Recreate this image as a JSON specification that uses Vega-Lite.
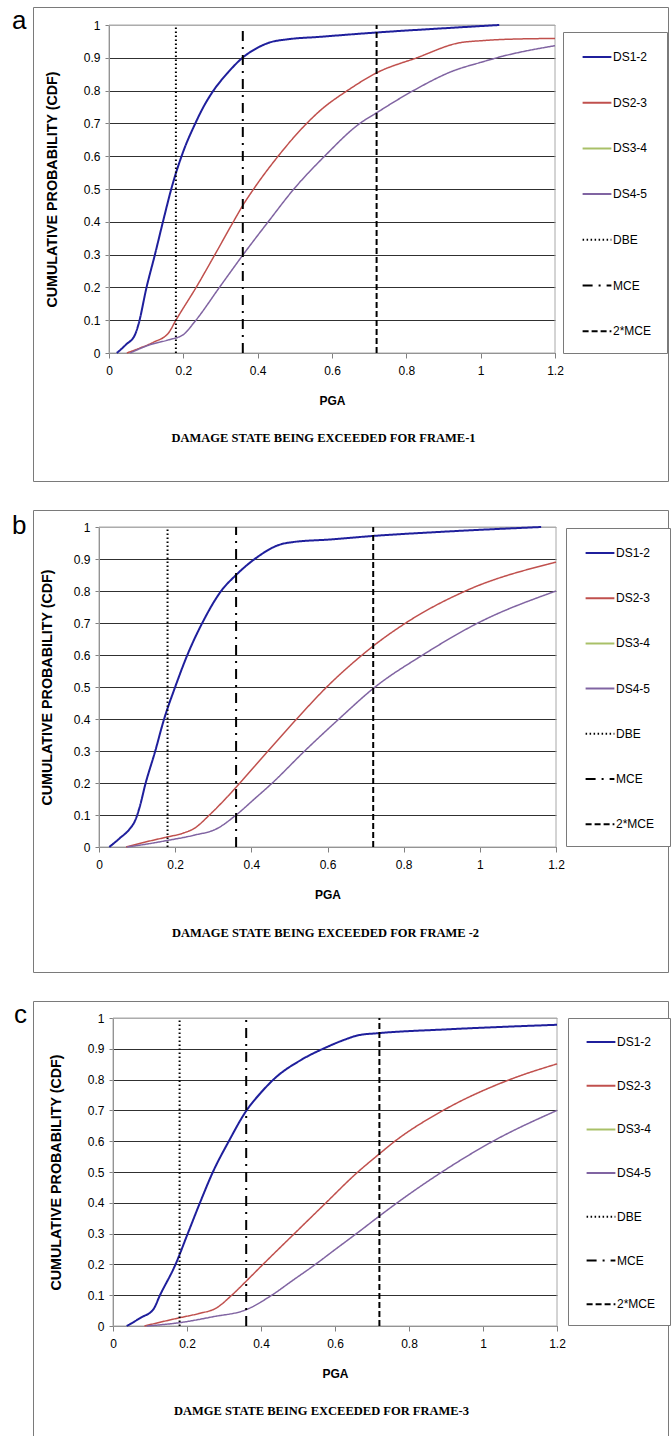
{
  "$schema": "https://vega.github.io/schema/vega-lite/v6.json",
  "background": "white",
  "padding": {"left": 12, "top": 6, "right": 0, "bottom": 0},
  "spacing": 27,
  "config": {
    "font": "Liberation Sans",
    "view": {"stroke": "#7a7a7a", "strokeWidth": 1},
    "axis": {
      "labelFont": "Liberation Sans",
      "labelFontSize": 12,
      "labelColor": "#000",
      "titleFont": "Liberation Sans",
      "titleColor": "#000",
      "titleFontWeight": "bold",
      "domainColor": "#808080",
      "tickColor": "#808080",
      "labelFlush": false,
      "labelOverlap": false
    },
    "axisX": {"grid": false, "tickSize": 5, "labelPadding": 7, "titleFontSize": 12, "titlePadding": 19},
    "axisY": {"grid": true, "gridWidth": 1, "tickSize": 4, "labelPadding": 5, "titleFontSize": 14.3},
    "legend": {
      "title": null,
      "orient": "none",
      "strokeColor": "#7a7a7a",
      "fillColor": "white",
      "symbolType": "M-0.6,0H2.6",
      "symbolSize": 324,
      "symbolStrokeWidth": 2,
      "labelOffset": 15,
      "labelFont": "Liberation Sans",
      "labelFontSize": 12,
      "labelColor": "#000"
    },
    "title": {"color": "#000"}
  },
  "resolve": {
    "scale": {"color": "independent", "strokeDash": "independent"},
    "legend": {"color": "independent", "strokeDash": "independent"}
  },
  "datasets": {
    "hazard": [
      {"series": "DBE", "pga": 0.18},
      {"series": "MCE", "pga": 0.36},
      {"series": "2*MCE", "pga": 0.72}
    ],
    "frame1": [
      {"series": "DS1-2", "pga": 0.021, "cdf": 0},
      {"series": "DS1-2", "pga": 0.045, "cdf": 0.025},
      {"series": "DS1-2", "pga": 0.07, "cdf": 0.056},
      {"series": "DS1-2", "pga": 0.079, "cdf": 0.086},
      {"series": "DS1-2", "pga": 0.101, "cdf": 0.2},
      {"series": "DS1-2", "pga": 0.124, "cdf": 0.302},
      {"series": "DS1-2", "pga": 0.146, "cdf": 0.404},
      {"series": "DS1-2", "pga": 0.169, "cdf": 0.506},
      {"series": "DS1-2", "pga": 0.2, "cdf": 0.615},
      {"series": "DS1-2", "pga": 0.231, "cdf": 0.697},
      {"series": "DS1-2", "pga": 0.255, "cdf": 0.752},
      {"series": "DS1-2", "pga": 0.281, "cdf": 0.8},
      {"series": "DS1-2", "pga": 0.32, "cdf": 0.855},
      {"series": "DS1-2", "pga": 0.359, "cdf": 0.9},
      {"series": "DS1-2", "pga": 0.397, "cdf": 0.929},
      {"series": "DS1-2", "pga": 0.433, "cdf": 0.947},
      {"series": "DS1-2", "pga": 0.478, "cdf": 0.956},
      {"series": "DS1-2", "pga": 0.568, "cdf": 0.964},
      {"series": "DS1-2", "pga": 0.718, "cdf": 0.977},
      {"series": "DS1-2", "pga": 0.9, "cdf": 0.99},
      {"series": "DS1-2", "pga": 1.05, "cdf": 1.0},
      {"series": "DS2-3", "pga": 0.048, "cdf": 0},
      {"series": "DS2-3", "pga": 0.083, "cdf": 0.015},
      {"series": "DS2-3", "pga": 0.12, "cdf": 0.033},
      {"series": "DS2-3", "pga": 0.16, "cdf": 0.061},
      {"series": "DS2-3", "pga": 0.18, "cdf": 0.1},
      {"series": "DS2-3", "pga": 0.236, "cdf": 0.203},
      {"series": "DS2-3", "pga": 0.285, "cdf": 0.3},
      {"series": "DS2-3", "pga": 0.335, "cdf": 0.401},
      {"series": "DS2-3", "pga": 0.36, "cdf": 0.45},
      {"series": "DS2-3", "pga": 0.388, "cdf": 0.498},
      {"series": "DS2-3", "pga": 0.455, "cdf": 0.6},
      {"series": "DS2-3", "pga": 0.532, "cdf": 0.7},
      {"series": "DS2-3", "pga": 0.568, "cdf": 0.739},
      {"series": "DS2-3", "pga": 0.644, "cdf": 0.802},
      {"series": "DS2-3", "pga": 0.718, "cdf": 0.853},
      {"series": "DS2-3", "pga": 0.828, "cdf": 0.9},
      {"series": "DS2-3", "pga": 0.944, "cdf": 0.946},
      {"series": "DS2-3", "pga": 1.0, "cdf": 0.952},
      {"series": "DS2-3", "pga": 1.061, "cdf": 0.956},
      {"series": "DS2-3", "pga": 1.2, "cdf": 0.959},
      {"series": "DS4-5", "pga": 0.057, "cdf": 0},
      {"series": "DS4-5", "pga": 0.11, "cdf": 0.025},
      {"series": "DS4-5", "pga": 0.16, "cdf": 0.04},
      {"series": "DS4-5", "pga": 0.2, "cdf": 0.056},
      {"series": "DS4-5", "pga": 0.231, "cdf": 0.096},
      {"series": "DS4-5", "pga": 0.299, "cdf": 0.203},
      {"series": "DS4-5", "pga": 0.361, "cdf": 0.3},
      {"series": "DS4-5", "pga": 0.429, "cdf": 0.401},
      {"series": "DS4-5", "pga": 0.496, "cdf": 0.498},
      {"series": "DS4-5", "pga": 0.58, "cdf": 0.6},
      {"series": "DS4-5", "pga": 0.675, "cdf": 0.7},
      {"series": "DS4-5", "pga": 0.718, "cdf": 0.731},
      {"series": "DS4-5", "pga": 0.819, "cdf": 0.8},
      {"series": "DS4-5", "pga": 0.926, "cdf": 0.86},
      {"series": "DS4-5", "pga": 1.0, "cdf": 0.886},
      {"series": "DS4-5", "pga": 1.06, "cdf": 0.905},
      {"series": "DS4-5", "pga": 1.2, "cdf": 0.937}
    ],
    "frame2": [
      {"series": "DS1-2", "pga": 0.027, "cdf": 0},
      {"series": "DS1-2", "pga": 0.055, "cdf": 0.028},
      {"series": "DS1-2", "pga": 0.081, "cdf": 0.057},
      {"series": "DS1-2", "pga": 0.095, "cdf": 0.083},
      {"series": "DS1-2", "pga": 0.108, "cdf": 0.13},
      {"series": "DS1-2", "pga": 0.121, "cdf": 0.193},
      {"series": "DS1-2", "pga": 0.147, "cdf": 0.297},
      {"series": "DS1-2", "pga": 0.171, "cdf": 0.4},
      {"series": "DS1-2", "pga": 0.2, "cdf": 0.5},
      {"series": "DS1-2", "pga": 0.232, "cdf": 0.6},
      {"series": "DS1-2", "pga": 0.272, "cdf": 0.702},
      {"series": "DS1-2", "pga": 0.322, "cdf": 0.802},
      {"series": "DS1-2", "pga": 0.359, "cdf": 0.849},
      {"series": "DS1-2", "pga": 0.41, "cdf": 0.901},
      {"series": "DS1-2", "pga": 0.475, "cdf": 0.945},
      {"series": "DS1-2", "pga": 0.51, "cdf": 0.953},
      {"series": "DS1-2", "pga": 0.607, "cdf": 0.961},
      {"series": "DS1-2", "pga": 0.719, "cdf": 0.972},
      {"series": "DS1-2", "pga": 0.9, "cdf": 0.985},
      {"series": "DS1-2", "pga": 1.161, "cdf": 1.0},
      {"series": "DS2-3", "pga": 0.071, "cdf": 0},
      {"series": "DS2-3", "pga": 0.12, "cdf": 0.015},
      {"series": "DS2-3", "pga": 0.178, "cdf": 0.031},
      {"series": "DS2-3", "pga": 0.22, "cdf": 0.043},
      {"series": "DS2-3", "pga": 0.25, "cdf": 0.058},
      {"series": "DS2-3", "pga": 0.29, "cdf": 0.1},
      {"series": "DS2-3", "pga": 0.33, "cdf": 0.148},
      {"series": "DS2-3", "pga": 0.37, "cdf": 0.2},
      {"series": "DS2-3", "pga": 0.44, "cdf": 0.295},
      {"series": "DS2-3", "pga": 0.519, "cdf": 0.4},
      {"series": "DS2-3", "pga": 0.598, "cdf": 0.5},
      {"series": "DS2-3", "pga": 0.69, "cdf": 0.599},
      {"series": "DS2-3", "pga": 0.719, "cdf": 0.627},
      {"series": "DS2-3", "pga": 0.808, "cdf": 0.702},
      {"series": "DS2-3", "pga": 0.966, "cdf": 0.802},
      {"series": "DS2-3", "pga": 1.2, "cdf": 0.89},
      {"series": "DS4-5", "pga": 0.073, "cdf": 0},
      {"series": "DS4-5", "pga": 0.13, "cdf": 0.01},
      {"series": "DS4-5", "pga": 0.182, "cdf": 0.021},
      {"series": "DS4-5", "pga": 0.25, "cdf": 0.037},
      {"series": "DS4-5", "pga": 0.309, "cdf": 0.057},
      {"series": "DS4-5", "pga": 0.36, "cdf": 0.1},
      {"series": "DS4-5", "pga": 0.408, "cdf": 0.15},
      {"series": "DS4-5", "pga": 0.455, "cdf": 0.2},
      {"series": "DS4-5", "pga": 0.54, "cdf": 0.3},
      {"series": "DS4-5", "pga": 0.63, "cdf": 0.4},
      {"series": "DS4-5", "pga": 0.725, "cdf": 0.5},
      {"series": "DS4-5", "pga": 0.85, "cdf": 0.6},
      {"series": "DS4-5", "pga": 0.995, "cdf": 0.7},
      {"series": "DS4-5", "pga": 1.2, "cdf": 0.8}
    ],
    "frame3": [
      {"series": "DS1-2", "pga": 0.037, "cdf": 0},
      {"series": "DS1-2", "pga": 0.075, "cdf": 0.027},
      {"series": "DS1-2", "pga": 0.109, "cdf": 0.054},
      {"series": "DS1-2", "pga": 0.127, "cdf": 0.1},
      {"series": "DS1-2", "pga": 0.169, "cdf": 0.2},
      {"series": "DS1-2", "pga": 0.202, "cdf": 0.3},
      {"series": "DS1-2", "pga": 0.235, "cdf": 0.4},
      {"series": "DS1-2", "pga": 0.27, "cdf": 0.5},
      {"series": "DS1-2", "pga": 0.313, "cdf": 0.6},
      {"series": "DS1-2", "pga": 0.361, "cdf": 0.7},
      {"series": "DS1-2", "pga": 0.4, "cdf": 0.758},
      {"series": "DS1-2", "pga": 0.438, "cdf": 0.805},
      {"series": "DS1-2", "pga": 0.51, "cdf": 0.865},
      {"series": "DS1-2", "pga": 0.573, "cdf": 0.903},
      {"series": "DS1-2", "pga": 0.627, "cdf": 0.93},
      {"series": "DS1-2", "pga": 0.663, "cdf": 0.944},
      {"series": "DS1-2", "pga": 0.72, "cdf": 0.951},
      {"series": "DS1-2", "pga": 0.9, "cdf": 0.963},
      {"series": "DS1-2", "pga": 1.2, "cdf": 0.978},
      {"series": "DS2-3", "pga": 0.085, "cdf": 0},
      {"series": "DS2-3", "pga": 0.13, "cdf": 0.013},
      {"series": "DS2-3", "pga": 0.181, "cdf": 0.027},
      {"series": "DS2-3", "pga": 0.23, "cdf": 0.04},
      {"series": "DS2-3", "pga": 0.28, "cdf": 0.059},
      {"series": "DS2-3", "pga": 0.321, "cdf": 0.1},
      {"series": "DS2-3", "pga": 0.362, "cdf": 0.148},
      {"series": "DS2-3", "pga": 0.402, "cdf": 0.196},
      {"series": "DS2-3", "pga": 0.492, "cdf": 0.302},
      {"series": "DS2-3", "pga": 0.573, "cdf": 0.397},
      {"series": "DS2-3", "pga": 0.659, "cdf": 0.497},
      {"series": "DS2-3", "pga": 0.72, "cdf": 0.559},
      {"series": "DS2-3", "pga": 0.762, "cdf": 0.6},
      {"series": "DS2-3", "pga": 0.888, "cdf": 0.697},
      {"series": "DS2-3", "pga": 1.068, "cdf": 0.798},
      {"series": "DS2-3", "pga": 1.2, "cdf": 0.851},
      {"series": "DS4-5", "pga": 0.091, "cdf": 0},
      {"series": "DS4-5", "pga": 0.181, "cdf": 0.011},
      {"series": "DS4-5", "pga": 0.27, "cdf": 0.03},
      {"series": "DS4-5", "pga": 0.362, "cdf": 0.054},
      {"series": "DS4-5", "pga": 0.429, "cdf": 0.1},
      {"series": "DS4-5", "pga": 0.488, "cdf": 0.15},
      {"series": "DS4-5", "pga": 0.547, "cdf": 0.2},
      {"series": "DS4-5", "pga": 0.6, "cdf": 0.248},
      {"series": "DS4-5", "pga": 0.658, "cdf": 0.3},
      {"series": "DS4-5", "pga": 0.72, "cdf": 0.357},
      {"series": "DS4-5", "pga": 0.768, "cdf": 0.4},
      {"series": "DS4-5", "pga": 0.889, "cdf": 0.5},
      {"series": "DS4-5", "pga": 1.027, "cdf": 0.6},
      {"series": "DS4-5", "pga": 1.2, "cdf": 0.7}
    ]
  },
  "vconcat": [
    {
      "title": {"text": "a", "orient": "top", "anchor": "start", "frame": "group", "font": "Liberation Sans", "fontSize": 26, "fontWeight": "normal", "baseline": "alphabetic", "dx": -21, "offset": -48},
      "vconcat": [
        {
          "width": 635,
          "height": 474,
          "title": {"text": "DAMAGE STATE BEING EXCEEDED FOR FRAME-1", "orient": "bottom", "anchor": "middle", "frame": "group", "font": "Liberation Serif", "fontSize": 12.5, "fontWeight": "bold", "baseline": "alphabetic", "dx": -27, "offset": -39},
          "layer": [
            {
              "data": {"values": [{}]},
              "mark": {"type": "rect", "filled": false, "stroke": "#a8a8a8", "strokeWidth": 1},
              "encoding": {
                "x": {"datum": 0, "type": "quantitative",
                  "scale": {"domain": [0, 1.2], "range": [76, 522], "nice": false, "zero": false},
                  "axis": {"title": "PGA", "orient": "bottom", "offset": -128, "values": [0, 0.2, 0.4, 0.6, 0.8, 1, 1.2], "format": "~g"}},
                "x2": {"datum": 1.2},
                "y": {"datum": 0, "type": "quantitative",
                  "scale": {"domain": [0, 1], "range": [346, 18], "nice": false, "zero": false},
                  "axis": {"title": "CUMULATIVE PROBABILITY (CDF)", "orient": "left", "offset": -76, "titlePadding": 24, "values": [0, 0.1, 0.2, 0.3, 0.4, 0.5, 0.6, 0.7, 0.8, 0.9, 1], "format": "~g",
                    "gridColor": {"condition": {"test": "datum.value >= 1", "value": "#b0b0b0"}, "value": "#303030"}}},
                "y2": {"datum": 1}
              }
            },
            {
              "data": {"name": "frame1"},
              "transform": [{"filter": "datum.series !== 'DS1-2'"}],
              "mark": {"type": "line", "interpolate": "monotone", "strokeWidth": 1.5},
              "encoding": {
                "x": {"field": "pga", "type": "quantitative", "title": "PGA"},
                "y": {"field": "cdf", "type": "quantitative", "title": "CUMULATIVE PROBABILITY (CDF)"},
                "color": {"field": "series", "type": "nominal",
                  "scale": {"domain": ["DS1-2", "DS2-3", "DS3-4", "DS4-5", "DBE", "MCE", "2*MCE"], "range": ["#1f1f9c", "#c0504d", "#a9c068", "#8064a2", "#000000", "#000000", "#000000"]},
                  "legend": {"legendX": 530, "legendY": 25, "padding": 15, "rowPadding": 29.7}},
                "strokeDash": {"field": "series", "type": "nominal",
                  "scale": {"domain": ["DS1-2", "DS2-3", "DS3-4", "DS4-5", "DBE", "MCE", "2*MCE"], "range": [[1, 0], [1, 0], [1, 0], [1, 0], [1.5, 2.5], [10, 6, 2, 6], [6, 3]]},
                  "legend": {"legendX": 530, "legendY": 25, "padding": 15, "rowPadding": 29.7}}
              }
            },
            {
              "data": {"name": "frame1"},
              "transform": [{"filter": "datum.series === 'DS1-2'"}],
              "mark": {"type": "line", "interpolate": "monotone", "strokeWidth": 2},
              "encoding": {
                "x": {"field": "pga", "type": "quantitative", "title": "PGA"},
                "y": {"field": "cdf", "type": "quantitative", "title": "CUMULATIVE PROBABILITY (CDF)"},
                "color": {"field": "series", "type": "nominal"},
                "strokeDash": {"field": "series", "type": "nominal"}
              }
            },
            {
              "data": {"name": "hazard"},
              "mark": {"type": "rule", "strokeWidth": 2},
              "encoding": {
                "x": {"field": "pga", "type": "quantitative", "title": "PGA"},
                "y": {"datum": 0, "type": "quantitative", "title": "CUMULATIVE PROBABILITY (CDF)"},
                "y2": {"datum": 1},
                "color": {"field": "series", "type": "nominal"},
                "strokeDash": {"field": "series", "type": "nominal"}
              }
            }
          ]
        }
      ]
    },
    {
      "title": {"text": "b", "orient": "top", "anchor": "start", "frame": "group", "font": "Liberation Sans", "fontSize": 26, "fontWeight": "normal", "baseline": "alphabetic", "dx": -21, "offset": -50},
      "vconcat": [
        {
          "width": 635,
          "height": 462,
          "title": {"text": "DAMAGE STATE BEING EXCEEDED FOR FRAME -2", "orient": "bottom", "anchor": "middle", "frame": "group", "font": "Liberation Serif", "fontSize": 12.5, "fontWeight": "bold", "baseline": "alphabetic", "dx": -25, "offset": -35},
          "layer": [
            {
              "data": {"values": [{}]},
              "mark": {"type": "rect", "filled": false, "stroke": "#a8a8a8", "strokeWidth": 1},
              "encoding": {
                "x": {"datum": 0, "type": "quantitative",
                  "scale": {"domain": [0, 1.2], "range": [66, 523], "nice": false, "zero": false},
                  "axis": {"title": "PGA", "orient": "bottom", "offset": -125, "values": [0, 0.2, 0.4, 0.6, 0.8, 1, 1.2], "format": "~g"}},
                "x2": {"datum": 1.2},
                "y": {"datum": 0, "type": "quantitative",
                  "scale": {"domain": [0, 1], "range": [337, 17], "nice": false, "zero": false},
                  "axis": {"title": "CUMULATIVE PROBABILITY (CDF)", "orient": "left", "offset": -66, "titlePadding": 19, "values": [0, 0.1, 0.2, 0.3, 0.4, 0.5, 0.6, 0.7, 0.8, 0.9, 1], "format": "~g",
                    "gridColor": {"condition": {"test": "datum.value >= 1", "value": "#b0b0b0"}, "value": "#303030"}}},
                "y2": {"datum": 1}
              }
            },
            {
              "data": {"name": "frame2"},
              "transform": [{"filter": "datum.series !== 'DS1-2'"}],
              "mark": {"type": "line", "interpolate": "monotone", "strokeWidth": 1.5},
              "encoding": {
                "x": {"field": "pga", "type": "quantitative", "title": "PGA"},
                "y": {"field": "cdf", "type": "quantitative", "title": "CUMULATIVE PROBABILITY (CDF)"},
                "color": {"field": "series", "type": "nominal",
                  "scale": {"domain": ["DS1-2", "DS2-3", "DS3-4", "DS4-5", "DBE", "MCE", "2*MCE"], "range": ["#1f1f9c", "#c0504d", "#a9c068", "#8064a2", "#000000", "#000000", "#000000"]},
                  "legend": {"legendX": 533, "legendY": 18, "padding": 15, "rowPadding": 29.2}},
                "strokeDash": {"field": "series", "type": "nominal",
                  "scale": {"domain": ["DS1-2", "DS2-3", "DS3-4", "DS4-5", "DBE", "MCE", "2*MCE"], "range": [[1, 0], [1, 0], [1, 0], [1, 0], [1.5, 2.5], [10, 6, 2, 6], [6, 3]]},
                  "legend": {"legendX": 533, "legendY": 18, "padding": 15, "rowPadding": 29.2}}
              }
            },
            {
              "data": {"name": "frame2"},
              "transform": [{"filter": "datum.series === 'DS1-2'"}],
              "mark": {"type": "line", "interpolate": "monotone", "strokeWidth": 2},
              "encoding": {
                "x": {"field": "pga", "type": "quantitative", "title": "PGA"},
                "y": {"field": "cdf", "type": "quantitative", "title": "CUMULATIVE PROBABILITY (CDF)"},
                "color": {"field": "series", "type": "nominal"},
                "strokeDash": {"field": "series", "type": "nominal"}
              }
            },
            {
              "data": {"name": "hazard"},
              "mark": {"type": "rule", "strokeWidth": 2},
              "encoding": {
                "x": {"field": "pga", "type": "quantitative", "title": "PGA"},
                "y": {"datum": 0, "type": "quantitative", "title": "CUMULATIVE PROBABILITY (CDF)"},
                "y2": {"datum": 1},
                "color": {"field": "series", "type": "nominal"},
                "strokeDash": {"field": "series", "type": "nominal"}
              }
            }
          ]
        }
      ]
    },
    {
      "title": {"text": "c", "orient": "top", "anchor": "start", "frame": "group", "font": "Liberation Sans", "fontSize": 26, "fontWeight": "normal", "baseline": "alphabetic", "dx": -19, "offset": -48},
      "vconcat": [
        {
          "width": 635,
          "height": 445,
          "title": {"text": "DAMGE STATE BEING EXCEEDED FOR FRAME-3", "orient": "bottom", "anchor": "middle", "frame": "group", "font": "Liberation Serif", "fontSize": 12.5, "fontWeight": "bold", "baseline": "alphabetic", "dx": -29, "offset": -31},
          "layer": [
            {
              "data": {"values": [{}]},
              "mark": {"type": "rect", "filled": false, "stroke": "#a8a8a8", "strokeWidth": 1},
              "encoding": {
                "x": {"datum": 0, "type": "quantitative",
                  "scale": {"domain": [0, 1.2], "range": [80, 524], "nice": false, "zero": false},
                  "axis": {"title": "PGA", "orient": "bottom", "offset": -120, "values": [0, 0.2, 0.4, 0.6, 0.8, 1, 1.2], "format": "~g"}},
                "x2": {"datum": 1.2},
                "y": {"datum": 0, "type": "quantitative",
                  "scale": {"domain": [0, 1], "range": [325, 17], "nice": false, "zero": false},
                  "axis": {"title": "CUMULATIVE PROBABILITY (CDF)", "orient": "left", "offset": -80, "titlePadding": 24, "values": [0, 0.1, 0.2, 0.3, 0.4, 0.5, 0.6, 0.7, 0.8, 0.9, 1], "format": "~g",
                    "gridColor": {"condition": {"test": "datum.value >= 1", "value": "#b0b0b0"}, "value": "#303030"}}},
                "y2": {"datum": 1}
              }
            },
            {
              "data": {"name": "frame3"},
              "transform": [{"filter": "datum.series !== 'DS1-2'"}],
              "mark": {"type": "line", "interpolate": "monotone", "strokeWidth": 1.5},
              "encoding": {
                "x": {"field": "pga", "type": "quantitative", "title": "PGA"},
                "y": {"field": "cdf", "type": "quantitative", "title": "CUMULATIVE PROBABILITY (CDF)"},
                "color": {"field": "series", "type": "nominal",
                  "scale": {"domain": ["DS1-2", "DS2-3", "DS3-4", "DS4-5", "DBE", "MCE", "2*MCE"], "range": ["#1f1f9c", "#c0504d", "#a9c068", "#8064a2", "#000000", "#000000", "#000000"]},
                  "legend": {"legendX": 535, "legendY": 17, "padding": 14, "rowPadding": 27.7}},
                "strokeDash": {"field": "series", "type": "nominal",
                  "scale": {"domain": ["DS1-2", "DS2-3", "DS3-4", "DS4-5", "DBE", "MCE", "2*MCE"], "range": [[1, 0], [1, 0], [1, 0], [1, 0], [1.5, 2.5], [10, 6, 2, 6], [6, 3]]},
                  "legend": {"legendX": 535, "legendY": 17, "padding": 14, "rowPadding": 27.7}}
              }
            },
            {
              "data": {"name": "frame3"},
              "transform": [{"filter": "datum.series === 'DS1-2'"}],
              "mark": {"type": "line", "interpolate": "monotone", "strokeWidth": 2},
              "encoding": {
                "x": {"field": "pga", "type": "quantitative", "title": "PGA"},
                "y": {"field": "cdf", "type": "quantitative", "title": "CUMULATIVE PROBABILITY (CDF)"},
                "color": {"field": "series", "type": "nominal"},
                "strokeDash": {"field": "series", "type": "nominal"}
              }
            },
            {
              "data": {"name": "hazard"},
              "mark": {"type": "rule", "strokeWidth": 2},
              "encoding": {
                "x": {"field": "pga", "type": "quantitative", "title": "PGA"},
                "y": {"datum": 0, "type": "quantitative", "title": "CUMULATIVE PROBABILITY (CDF)"},
                "y2": {"datum": 1},
                "color": {"field": "series", "type": "nominal"},
                "strokeDash": {"field": "series", "type": "nominal"}
              }
            }
          ]
        }
      ]
    }
  ]
}
